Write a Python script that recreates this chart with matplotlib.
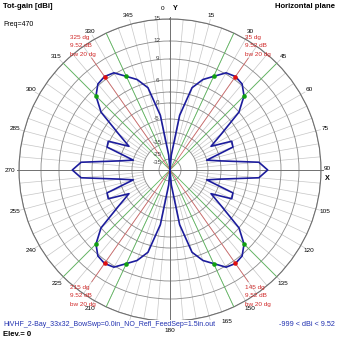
import numpy as np
import matplotlib.pyplot as plt

# horizontal-plane gain, every 5 deg, bearing clockwise from Y
ANGLES = list(range(0, 360, 5))
GAIN = [-999, -25, -3.6, 4.8, 6.9, 7.9, 9.2, 9.52, 9.2, 8.1, 6.0, -1.4, -6.4, 0.3, 0.0, -10.0, -4.6, 5.8,
        7.1, 5.8, -4.6, -10.0, 0.0, 0.3, -6.4, -1.4, 6.0, 8.1, 9.2, 9.52, 9.2, 7.9, 6.9, 4.8, -3.6, -25,
        -999, -25, -3.6, 4.8, 6.9, 7.9, 9.2, 9.52, 9.2, 8.1, 6.0, -1.4, -6.4, 0.3, 0.0, -10.0, -4.6, 5.8,
        7.1, 5.8, -4.6, -10.0, 0.0, 0.3, -6.4, -1.4, 6.0, 8.1, 9.2, 9.52, 9.2, 7.9, 6.9, 4.8, -3.6, -25]

PEAK_DIRS = [35, 145, 215, 325]
PEAK_GAIN = 9.52
BEAMWIDTH = 20
EDGE_DIRS = [25, 45, 135, 155, 205, 225, 315, 335]

RINGS = [15, 12, 9, 6, 3, 0, -5, -10, -15, -30]
RING_LABELS = [15, 12, 9, 6, 0, -5, -15, -25, -35]
# 195 sits completely under the file name in the original, so it is not drawn
ANGLE_LABELS = [a for a in range(0, 360, 15) if a != 195]

# radial scale of the plot (dB -> fraction of outer radius)
SCALE_DB = [-60, -35, -30, -25, -20, -15, -10, -5, 0, 3, 6, 9, 12, 15]
SCALE_R = np.array([0, 8, 11, 15, 20, 27, 38, 51, 67, 78, 90, 111, 129, 151]) / 151.0


def fwd(db):
    db = np.asarray(db, float)
    r = np.interp(db, SCALE_DB, SCALE_R)
    return np.where(db > 15, np.exp(0.052 * (db - 15)), r)


def inv(r):
    r = np.asarray(r, float)
    db = np.interp(r, SCALE_R, SCALE_DB)
    return np.where(r > 1, 15 + np.log(np.maximum(r, 1e-9)) / 0.052, db)


W = 339.0
fig = plt.figure(figsize=(3.39, 3.39), dpi=100)
fig.patch.set_facecolor('white')
plt.rcParams['font.family'] = ['Liberation Sans', 'DejaVu Sans']

ax = fig.add_axes([19 / W, 18 / W, 302 / W, 302 / W], projection='polar')
ax.set_theta_zero_location('N')
ax.set_theta_direction(-1)
ax.set_rscale('function', functions=(fwd, inv))
ax.set_rlim(-60, 15)
ax.set_thetagrids([])
ax.set_rgrids(RINGS, labels=[''] * len(RINGS))
ax.yaxis.grid(True, color='#8a8a8a', lw=0.6)
ax.spines['polar'].set_color('#707070')
ax.spines['polar'].set_linewidth(0.8)

# spokes, every 5 deg, starting at the -15 ring
for a in range(0, 360, 5):
    if a % 90 == 0:
        continue
    r_end = 15.6 if a % 15 == 0 else 15
    ax.plot([np.radians(a)] * 2, [-15, r_end], color='#c6c6c6', lw=0.5, zorder=1, clip_on=False)

# main axes
for a in [0, 90, 180, 270]:
    ax.plot([np.radians(a)] * 2, [-60, 15.3], color='#707070', lw=0.7, zorder=2, clip_on=False)

th = np.radians(ANGLES + [360])
g = np.array(GAIN + [GAIN[0]])

# beamwidth and peak direction lines
for a in EDGE_DIRS:
    ax.plot([np.radians(a)] * 2, [-60, 15], color='#5cb85c', lw=0.6, zorder=3)
for a in PEAK_DIRS:
    ax.plot([np.radians(a)] * 2, [-60, 13], color='#d06a6a', lw=0.6, zorder=3)

ax.plot(th, g, color='#1c1c9c', lw=1.2, zorder=5)

edge_gain = np.interp(EDGE_DIRS, ANGLES + [360], list(g))
ax.plot(np.radians(EDGE_DIRS), edge_gain, 'o', color='#10a010', ms=3.3, mec='none', zorder=6)
ax.plot(np.radians(PEAK_DIRS), [PEAK_GAIN] * len(PEAK_DIRS), 'o', color='#e01010', ms=3.3, mec='none', zorder=6)

# peak annotations
red = '#d02828'
for a in PEAK_DIRS:
    lines = [f'{a} dg', f'{PEAK_GAIN:.2f} dB', f'bw {BEAMWIDTH} dg']
    dx = -3 if a < 180 else -22
    if a in (35, 325):
        dys = [21, 13, 4]
    else:
        dys = [-6, -14, -23]
    for txt, dy in zip(lines, dys):
        ax.annotate(txt, xy=(np.radians(a), 13), xytext=(dx, dy), textcoords='offset pixels',
                    ha='left', va='center', fontsize=4.6, color=red, zorder=7)

# radial labels
for v in RING_LABELS:
    ax.annotate(str(v), xy=(0, v), xytext=(-13, 0), textcoords='offset pixels',
                ha='center', va='center', fontsize=4.5, color='#404040', zorder=7)

# angle labels
for a in ANGLE_LABELS:
    if a == 0:
        ax.annotate('0', xy=(0, 15), xytext=(-7, 10), textcoords='offset pixels',
                    ha='center', va='center', fontsize=4.6, annotation_clip=False)
        ax.annotate('Y', xy=(0, 15), xytext=(5, 10), textcoords='offset pixels',
                    ha='center', va='center', fontsize=5.2, fontweight='bold', annotation_clip=False)
        continue
    if a == 90:
        ax.annotate('90', xy=(np.radians(90), 15), xytext=(6, 2), textcoords='offset pixels',
                    ha='center', va='center', fontsize=4.6, annotation_clip=False)
        ax.annotate('X', xy=(np.radians(90), 15), xytext=(6, -9), textcoords='offset pixels',
                    ha='center', va='center', fontsize=5.2, fontweight='bold', annotation_clip=False)
        continue
    if a == 165:
        # nudged right so it clears the file name below the plot
        ax.annotate('165', xy=(np.radians(a), 15), xytext=(18, -6), textcoords='offset pixels',
                    ha='center', va='center', fontsize=4.6, annotation_clip=False)
        continue
    ax.text(np.radians(a), 16.15, str(a), ha='center', va='center', fontsize=4.6, clip_on=False)

# header / footer text
fig.text(3 / W, 1 - 6 / W, 'Tot-gain [dBi]', fontsize=5.6, fontweight='bold', va='center')
fig.text(335 / W, 1 - 7 / W, 'Horizontal plane', fontsize=5.6, fontweight='bold', va='center', ha='right')
fig.text(3 / W, 1 - 25 / W, 'Freq=470', fontsize=5.0, va='center')
fig.text(3 / W, 1 - 324 / W, 'HiVHF_2-Bay_33x32_BowSwp=0.0in_NO_Refl_FeedSep=1.5in.out', fontsize=5.0,
         color='#2030b0', va='center', zorder=10,
         bbox=dict(facecolor='white', edgecolor='none', pad=0.3))
fig.text(335 / W, 1 - 324 / W, '-999 < dBi < 9.52', fontsize=5.2, color='#2030b0', va='center', ha='right')
fig.text(3 / W, 1 - 335 / W, 'Elev.= 0', fontsize=5.6, fontweight='bold', va='center')

fig.savefig('out.png', dpi=100)
